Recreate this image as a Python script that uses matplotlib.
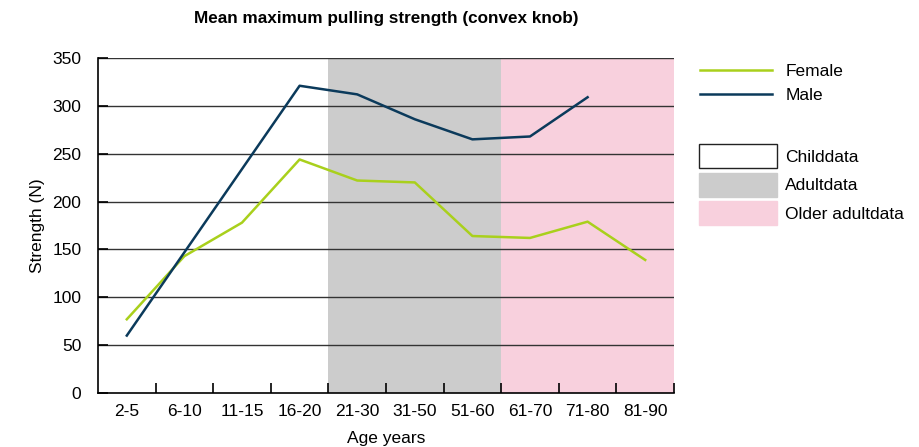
import numpy as np
import matplotlib
matplotlib.use('Agg')
import matplotlib.pyplot as plt
from matplotlib.patches import Patch

#### data
ages = ['2-5', '6-10', '11-15', '16-20', '21-30', '31-50', '51-60', '61-70', '71-80', '81-90']
female = [77, 143, 178, 244, 222, 220, 164, 162, 179, 139]
male = [60, 147, 234, 321, 312, 286, 265, 268, 309, np.nan]
group_names = ['Childdata', 'Adultdata', 'Older adultdata']
group_spans = [(0, 3), (4, 6), (7, 9)]   # first / last category index

#### style
c_female = '#a9d01c'
c_male = '#0b3a5b'
group_colors = ['white', '#cccccc', '#f8d0dd']
fs = 12.5

plt.rcParams['font.family'] = ['Liberation Sans', 'DejaVu Sans']

fig = plt.figure(figsize=(9.19, 4.47), dpi=100)
ax = fig.add_axes([98/919, 1-393/447, 576/919, 335/447])

x = np.arange(len(ages))
for (a, b), col in zip(group_spans, group_colors):
  ax.axvspan(a-0.5, b+0.5, color=col, lw=0, zorder=0)

ax.set_ylim(0, 350)
ax.set_xlim(-0.5, len(ages)-0.5)
ax.set_yticks(range(0, 351, 50))
for yv in range(50, 351, 50):
  ax.axhline(yv, color='#333333', lw=1.0, zorder=1)

l_f, = ax.plot(x, female, color=c_female, lw=1.8, zorder=3, label='Female')
l_m, = ax.plot(x, male, color=c_male, lw=1.8, zorder=3, label='Male')

ax.set_xticks(x)
ax.set_xticklabels(ages)
ax.set_xticks(np.arange(0.5, len(ages), 1.0), minor=True)
ax.tick_params(axis='x', which='major', length=0, labelsize=fs, pad=8)
ax.tick_params(axis='x', which='minor', direction='in', length=7, width=1.2)
ax.tick_params(axis='y', direction='in', length=7, width=1.2, labelsize=fs, pad=12)

for s in ['top', 'right']:
  ax.spines[s].set_visible(False)
for s in ['left', 'bottom']:
  ax.spines[s].set_linewidth(1.2)

ax.set_xlabel('Age years', fontsize=fs, labelpad=8.5)
ax.set_ylabel('Strength (N)', fontsize=fs, labelpad=5)
fig.text(386/919, 1-18/447, 'Mean maximum pulling strength (convex knob)',
         ha='center', va='center', fontsize=12.3, fontweight='bold')

# legends
leg1 = fig.legend(handles=[l_f, l_m], loc='upper left', bbox_to_anchor=(700/919, 1-64/447),
                  frameon=False, fontsize=fs, handlelength=4.14, handletextpad=0.8,
                  labelspacing=0.52, borderpad=0, borderaxespad=0)
patches = [Patch(facecolor=c, edgecolor='#222222' if c == 'white' else c, lw=1.0)
           for c in group_colors]
leg2 = fig.legend(handles=patches, labels=group_names, loc='upper left',
                  bbox_to_anchor=(699/919, 1-144/447), frameon=False, fontsize=fs,
                  handlelength=4.5, handleheight=1.75, handletextpad=0.45,
                  labelspacing=0.27, borderpad=0, borderaxespad=0)

fig.savefig('out.png', dpi=100)
